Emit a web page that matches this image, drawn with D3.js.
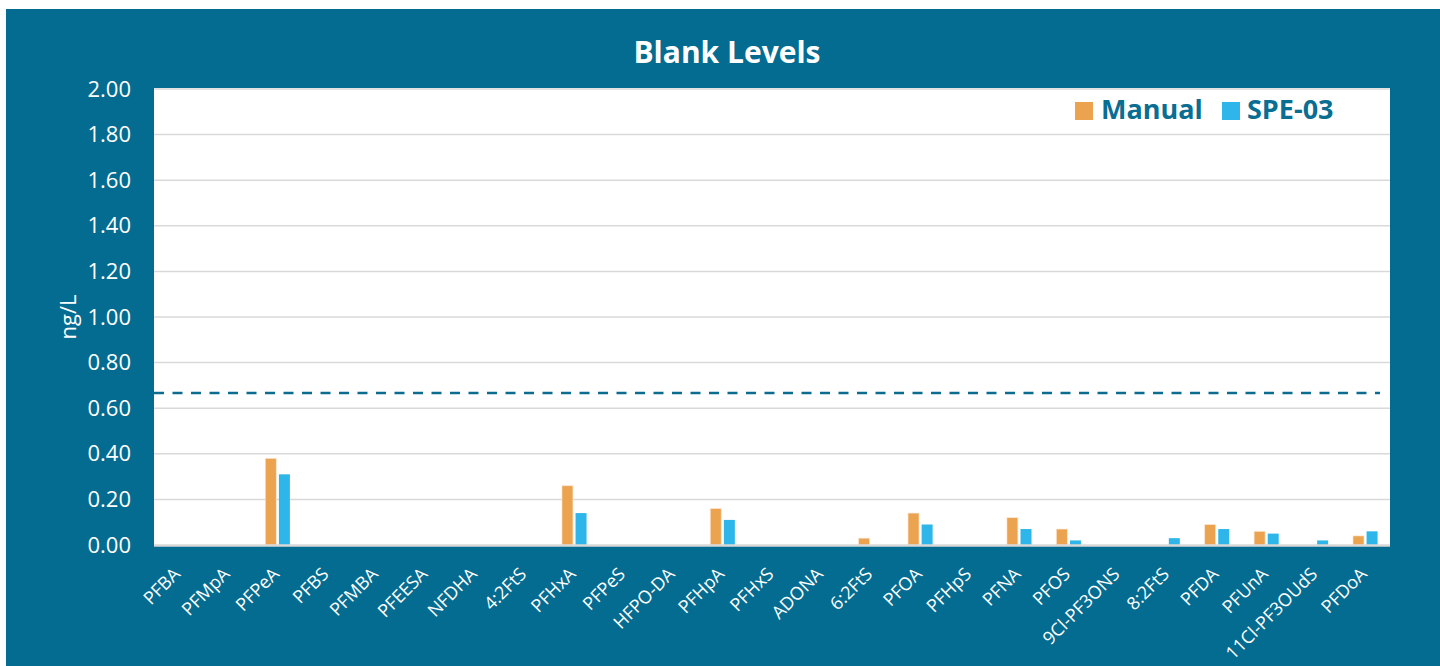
<!DOCTYPE html>
<html><head><meta charset="utf-8">
<script src="https://cdn.jsdelivr.net/npm/d3@7"></script>
<style>html,body{margin:0;padding:0;background:#fff;}svg{display:block;}</style>
</head><body>
<script>
const categories = ["PFBA","PFMpA","PFPeA","PFBS","PFMBA","PFEESA","NFDHA","4:2FtS","PFHxA","PFPeS","HFPO-DA","PFHpA","PFHxS","ADONA","6:2FtS","PFOA","PFHpS","PFNA","PFOS","9Cl-PF3ONS","8:2FtS","PFDA","PFUnA","11Cl-PF3OUdS","PFDoA"];
const manual = [0,0,0.38,0,0,0,0,0,0.26,0,0,0.16,0,0,0.03,0.14,0,0.12,0.07,0,0,0.09,0.06,0,0.04];
const spe03  = [0,0,0.31,0,0,0,0,0,0.14,0,0,0.11,0,0,0,0.09,0,0.07,0.02,0,0.03,0.07,0.05,0.02,0.06];
const seriesNames = ["Manual","SPE-03"];
const yTicks = [0,0.2,0.4,0.6,0.8,1.0,1.2,1.4,1.6,1.8,2.0];
const threshold = 0.667;

const W=1440,H=666;
const FONT="'Open Sans', Lato, sans-serif";
const bg="#046C91", orange="#EBA350", cyan="#2EB6EA", legendText="#0A6D92";
const svg=d3.select("body").append("svg").attr("width",W).attr("height",H);
svg.append("rect").attr("x",0).attr("y",0).attr("width",W).attr("height",H).attr("fill","#fff");
svg.append("rect").attr("x",6).attr("y",9).attr("width",W-6).attr("height",H-9).attr("fill",bg);

const L=154,R=1390,T=89,B=545;
svg.append("rect").attr("x",L).attr("y",T-1).attr("width",R-L).attr("height",B-T+1).attr("fill","#fff");

const x=d3.scaleBand().domain(categories).range([L,R]);
const y=d3.scaleLinear().domain([0,2]).range([B,T]);

// grid
svg.append("g").selectAll("line").data(yTicks.filter(d=>d>0)).join("line")
  .attr("x1",L).attr("x2",R).attr("y1",d=>y(d)).attr("y2",d=>y(d))
  .attr("stroke","#D9D9D9").attr("stroke-width",1.5);

// y axis labels
const yAxis=d3.axisLeft(y).tickValues(yTicks).tickFormat(d3.format(".2f")).tickSize(0).tickPadding(23);
const ga=svg.append("g").attr("transform",`translate(${L},0)`).call(yAxis);
ga.select(".domain").remove();
ga.selectAll("text").attr("fill","#fff").attr("font-family",FONT).attr("font-size",22);

svg.append("text").attr("transform",`translate(76,${(T+B)/2}) rotate(-90)`).attr("text-anchor","middle")
  .attr("fill","#fff").attr("font-family",FONT).attr("font-size",22).text("ng/L");

// bars
const bw=11, gap=2.6;
const series=[manual,spe03], cols=[orange,cyan];
series.forEach((vals,si)=>{
  svg.append("g").selectAll("rect").data(categories.map((c,i)=>({c,v:vals[i]})).filter(d=>d.v>0)).join("rect")
    .attr("x",d=>x(d.c)+x.bandwidth()/2+(si===0?-gap/2-bw:gap/2))
    .attr("y",d=>y(d.v)).attr("width",bw).attr("height",d=>y(0)-y(d.v))
    .attr("fill",cols[si]).attr("stroke","#FBE9D6").attr("stroke-opacity",si===0?0.8:0).attr("stroke-width",0.8);
});

// x axis line
svg.append("line").attr("x1",L).attr("x2",R).attr("y1",B+0.5).attr("y2",B+0.5).attr("stroke","#D9D9D9").attr("stroke-width",2.5);

// threshold
svg.append("line").attr("x1",L).attr("x2",R-10).attr("y1",y(threshold)).attr("y2",y(threshold))
  .attr("stroke","#0B6C90").attr("stroke-width",2.5).attr("stroke-dasharray","10,8.5");

// x labels
const xAxis=d3.axisBottom(x).tickSize(0).tickPadding(0);
const gx=svg.append("g").attr("transform",`translate(0,566)`).call(xAxis);
gx.select(".domain").remove();
gx.selectAll("text").attr("fill","#fff").attr("font-family",FONT).attr("font-size",18)
  .attr("text-anchor","end").attr("dy","0.72em").attr("transform","translate(-6.5,0) rotate(-45)");

// title
svg.append("text").attr("x",727).attr("y",63).attr("text-anchor","middle").attr("fill","#fff")
  .attr("font-family",FONT).attr("font-weight","bold").attr("font-size",30).text("Blank Levels");

// legend
const lg=[{n:seriesNames[0],c:orange,x:1075,tx:1101},{n:seriesNames[1],c:cyan,x:1222,tx:1247}];
lg.forEach(d=>{
  svg.append("rect").attr("x",d.x).attr("y",102).attr("width",18).attr("height",18).attr("fill",d.c);
  svg.append("text").attr("x",d.tx).attr("y",119).attr("fill",legendText).attr("font-family",FONT)
    .attr("font-weight","bold").attr("font-size",27).text(d.n);
});
</script>
</body></html>
